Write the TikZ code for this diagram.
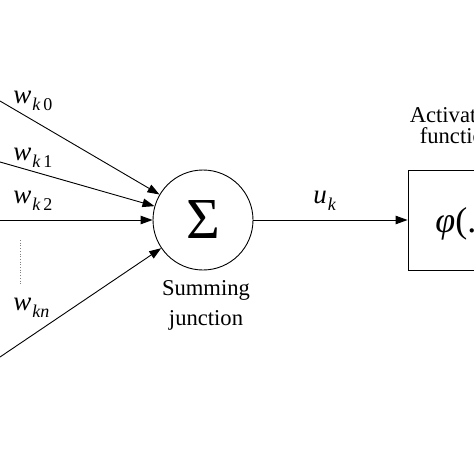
\documentclass[tikz,border=0pt]{standalone}
\usepackage{fontspec}
\setmainfont{Liberation Serif}
\usetikzlibrary{arrows.meta}
\newcommand\wlab[1]{w\kern1pt\raisebox{-7pt}{\fontsize{18}{20}\selectfont #1}}
\begin{document}
\begin{tikzpicture}[x=1pt,y=-1pt, line width=0.9pt,
  arr/.style={-{Triangle[length=12pt,width=8.5pt]}},
  lbl/.style={font=\fontsize{22.6}{30}\selectfont, inner sep=0pt, anchor=base},
  wlbl/.style={font=\fontsize{27}{30}\selectfont\itshape, inner sep=0pt, anchor=base west},
  dots/.style={dotted, gray, line width=0.7pt}]
\useasboundingbox (0,0) rectangle (474,474);
\clip (0,0) rectangle (474,474);
% summing junction
\node[circle, draw, minimum size=100pt, inner sep=0pt, font=\fontsize{58}{60}\selectfont] (sum) at (203,220) {Σ};
\node[lbl] (s1) at (206,295) {Summing};
\node[lbl] (s2) at (206,325) {junction};
% activation function box
\node[draw, minimum width=94pt, minimum height=100pt, inner sep=0pt] (act) at (455,220) {};
\node[anchor=base west, font=\fontsize{36}{40}\selectfont, inner sep=0pt] (phi) at (435,232) {\itshape φ\upshape(.)};
\node[font=\fontsize{22.6}{20.5}\selectfont, inner sep=0pt, align=center, anchor=south] (alab) at (457.5,144) {Activation\\function};
% inputs
\coordinate (in0) at (0,101);
\coordinate (in1) at (0,162);
\coordinate (in2) at (0,220);
\coordinate (inn) at (0,357);
\draw[arr] (in0) -- (sum);
\draw[arr] (in1) -- (sum);
\draw[arr] (in2) -- (sum);
\draw[arr] (inn) -- (sum);
\node[wlbl] (w0) at (13,103) {\wlab{k\,\upshape 0}};
\node[wlbl] (w1) at (13,160) {\wlab{k\,\upshape 1}};
\node[wlbl] (w2) at (13,203) {\wlab{k\,\upshape 2}};
\node[wlbl] (wn) at (13,310) {\wlab{kn}};
\coordinate (d1) at (20,240);
\coordinate (d2) at (20,284);
\draw[dots] (d1) -- (d2);
% output
\draw[arr] (sum) -- (act);
\node[wlbl] (uk) at (313,203) {u\kern1pt\raisebox{-7pt}{\fontsize{18}{20}\selectfont k}};
\end{tikzpicture}
\end{document}
